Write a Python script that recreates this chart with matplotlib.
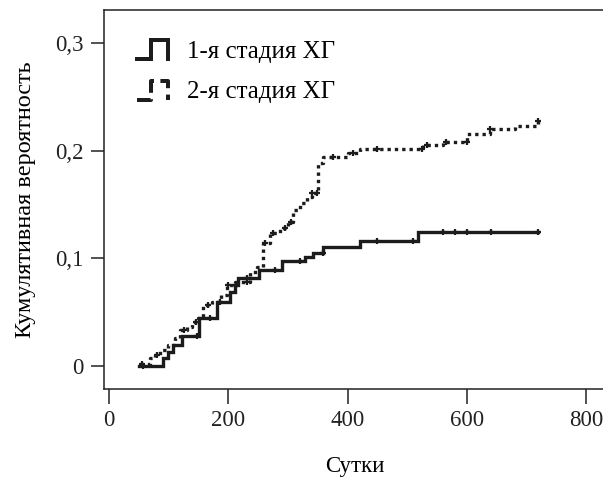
import matplotlib
matplotlib.use("Agg")
import matplotlib.pyplot as plt
from matplotlib.lines import Line2D
from matplotlib.legend_handler import HandlerLine2D
from matplotlib.ticker import FuncFormatter
import numpy as np

# 1-я стадия ХГ: моменты событий (сутки) и кумулятивная вероятность
t1 = [50, 90, 99, 107, 122, 151, 181, 203, 211, 216, 251, 290, 329, 342, 359, 421, 518, 720]
p1 = [0.0, 0.007, 0.013, 0.019, 0.028, 0.044, 0.059, 0.069, 0.075, 0.082,
      0.089, 0.097, 0.101, 0.105, 0.110, 0.116, 0.124, 0.124]
cens1 = [57, 147, 169, 186, 212, 232, 278, 320, 358, 450, 510, 561, 580, 600, 641, 720]

# 2-я стадия ХГ
t2 = [51, 68, 77, 85, 99, 110, 119, 130, 139, 149, 157, 173, 187, 198, 211, 236,
      248, 258, 270, 287, 300, 308, 320, 332, 340, 350, 359, 401, 421, 527, 561,
      601, 640, 681, 720]
p2 = [0.002, 0.007, 0.010, 0.015, 0.019, 0.026, 0.033, 0.036, 0.041, 0.044, 0.056,
      0.059, 0.066, 0.075, 0.078, 0.087, 0.092, 0.114, 0.123, 0.128, 0.134, 0.145,
      0.151, 0.157, 0.161, 0.189, 0.194, 0.198, 0.202, 0.205, 0.208, 0.216, 0.220,
      0.223, 0.228]
cens2 = [55, 80, 125, 145, 165, 200, 232, 262, 275, 295, 305, 341, 348, 375, 410,
         449, 525, 533, 565, 600, 640, 720]

labels = ["1-я стадия ХГ", "2-я стадия ХГ"]
xticks = [0, 200, 400, 600, 800]
yticks = [0, 0.1, 0.2, 0.3]

plt.rcParams['font.family'] = ['Liberation Serif', 'DejaVu Serif']
plt.rcParams['font.size'] = 16

col = '#1c1c1c'
dots = (0, (1, 1.2))


def step_val(t, p, x):
    i = np.searchsorted(t, x, side='right') - 1
    return np.array(p)[np.clip(i, 0, len(p) - 1)]


class StepHandler(HandlerLine2D):
    # значок легенды в виде ступеньки
    def create_artists(self, legend, orig_handle, xdescent, ydescent, width, height, fontsize, trans):
        x0, x1 = -xdescent, -xdescent + width
        y0, y1 = -ydescent - 0.1 * height, -ydescent + 1.0 * height
        xs = [x0, x0 + 0.45 * (x1 - x0), x0 + 0.45 * (x1 - x0), x1, x1]
        ys = [y0, y0, y1, y1, y0]
        ln = Line2D(xs, ys, color=orig_handle.get_color(), lw=orig_handle.get_linewidth() * 1.2,
                    linestyle=orig_handle.get_linestyle(), solid_joinstyle='miter',
                    dash_capstyle='butt')
        ln.set_transform(trans)
        return [ln]


fig = plt.figure(figsize=(6.03, 4.79), dpi=100)
ax = fig.add_axes([104 / 603, 1 - 389.3 / 479, 502 / 603, 379.3 / 479])

l1, = ax.plot(t1, p1, drawstyle='steps-post', color=col, lw=2.4,
              solid_joinstyle='miter', label=labels[0])
l2, = ax.plot(t2, p2, drawstyle='steps-post', color=col, lw=2.4,
              linestyle=dots, dash_capstyle='butt', label=labels[1])

ax.plot(cens1, step_val(t1, p1, cens1), linestyle='none', marker='+', ms=4.5,
        mew=1.6, color=col)
ax.plot(cens2, step_val(t2, p2, cens2), linestyle='none', marker='+', ms=4.5,
        mew=1.6, color=col)

ax.set_xlim(-8.9, 834)
ax.set_ylim(-0.022, 0.331)
ax.set_xticks(xticks)
ax.set_yticks(yticks)
ax.xaxis.set_major_formatter(FuncFormatter(lambda v, pos: f"{v:g}"))
ax.yaxis.set_major_formatter(FuncFormatter(lambda v, pos: f"{v:g}".replace('.', ',')))
ax.tick_params(axis='x', length=10.8, width=1.1, pad=4, colors='#222222', labelsize=16.5)
ax.tick_params(axis='y', length=9.5, width=1.1, pad=5, colors='#222222', labelsize=16.5)
for s in ax.spines.values():
    s.set_linewidth(1.1)
    s.set_color('#222222')

ax.set_xlabel("Сутки", fontsize=16.5, labelpad=18)
ax.set_ylabel("Кумулятивная вероятность", fontsize=17.5, labelpad=14)

ax.legend(handles=[l1, l2], loc='upper left', bbox_to_anchor=(0.02, 0.98),
          frameon=False, handlelength=1.25, handletextpad=0.75, labelspacing=0.72,
          handler_map={Line2D: StepHandler()}, fontsize=18)

fig.savefig("out.png", dpi=100)
